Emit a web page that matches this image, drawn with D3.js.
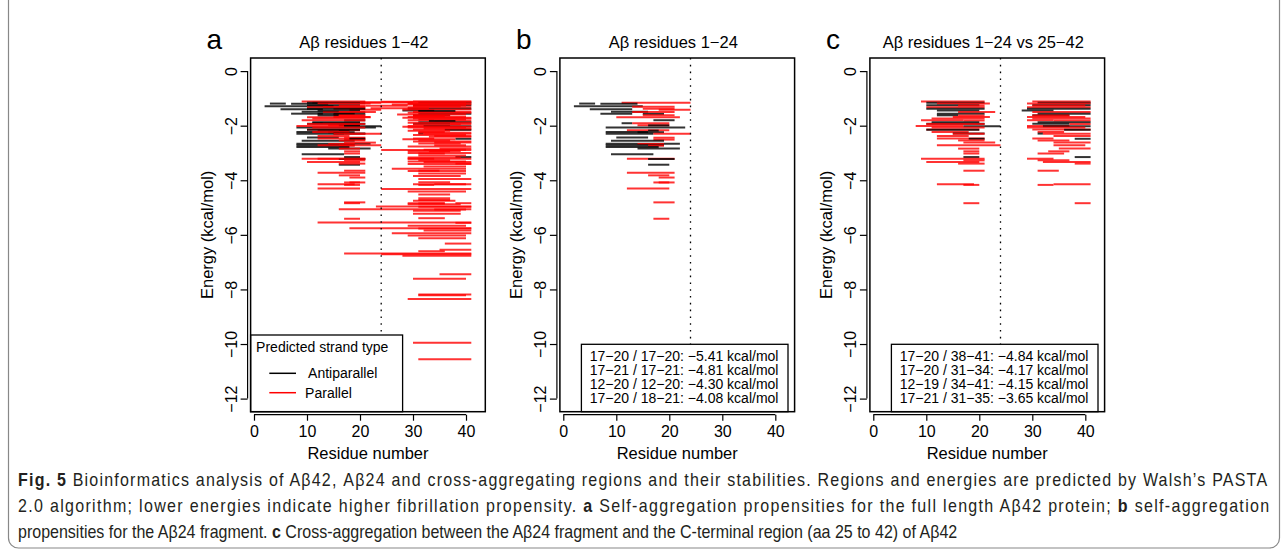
<!DOCTYPE html>
<html>
<head>
<meta charset="utf-8">
<script src="https://cdn.jsdelivr.net/npm/d3@7"></script>
<style>
  body { margin: 0; background: #fff; }
  svg { display: block; }
  text { font-family: "Liberation Sans", Arial, Helvetica, sans-serif; fill: #000; }
</style>
</head>
<body>
<svg id="fig" width="1287" height="557"></svg>
<script>
// ---- data ----------------------------------------------------------------
const xTicks = [0, 10, 20, 30, 40];
const yTicks = [0, -2, -4, -6, -8, -10, -12];
const xLimits = [1, 42];
const yLimits = [-12, 0];
const splitResidue = 24;

const panelLetters = ['a', 'b', 'c'];
const panelRanges = ['1\u221242', '1\u221224', '1\u221224 vs 25\u221242'];
const strandTypes = ['Antiparallel', 'Parallel'];

// Aβ1-24 self pairings: [from, to, energy, type]  (A = antiparallel, P = parallel)
const selfPairs124 = [
  [11, 24, -1.16, 'P'], [3, 6, -1.19, 'A'], [7, 14, -1.20, 'A'], [2, 15, -1.29, 'A'],
  [13, 21, -1.31, 'P'], [5, 13, -1.40, 'A'], [15, 21, -1.38, 'P'], [18, 24, -1.42, 'P'],
  [9, 16, -1.49, 'A'], [13, 21, -1.50, 'P'], [7, 13, -1.56, 'A'], [15, 19, -1.57, 'A'],
  [15, 21, -1.62, 'P'], [10, 22, -1.69, 'P'], [17, 21, -1.80, 'A'], [11, 13, -1.91, 'A'],
  [13, 20, -1.91, 'P'], [14, 20, -1.98, 'P'], [16, 20, -1.99, 'A'], [8, 23, -2.07, 'A'],
  [12, 20, -2.17, 'P'], [16, 18, -2.18, 'A'], [8, 16, -2.23, 'A'], [14, 19, -2.24, 'A'],
  [8, 17, -2.30, 'A'], [17, 24, -2.30, 'P'], [10, 16, -2.43, 'A'], [17, 21, -2.44, 'P'],
  [17, 21, -2.51, 'P'], [9, 19, -2.55, 'A'], [8, 22, -2.66, 'A'], [14, 19, -2.67, 'P'],
  [8, 19, -2.72, 'A'], [16, 19, -2.73, 'P'], [8, 18, -2.78, 'A'], [14, 22, -2.84, 'A'],
  [9, 17, -3.05, 'A'], [12, 21, -3.21, 'P'], [16, 21, -3.22, 'A'], [16, 20, -3.43, 'A'],
  [12, 21, -3.72, 'P'], [16, 20, -3.82, 'P'], [18, 21, -3.90, 'P'], [17, 20, -4.08, 'P'],
  [18, 21, -4.08, 'P'], [12, 20, -4.30, 'P'], [17, 21, -4.81, 'P'], [17, 20, -5.41, 'P']
];

// cross pairings 1-24 vs 25-42: [energy, from1, to1, from2, to2, type]
const crossPairs = [
  [-1.11, 9, 21, 30, 41, 'P'], [-1.16, 10, 21, 31, 41, 'A'], [-1.19, 12, 22, 29, 41, 'P'],
  [-1.25, 10, 20, 30, 41, 'A'], [-1.26, 16, 21, 30, 40, 'P'], [-1.32, 10, 21, 29, 41, 'P'],
  [-1.38, 10, 21, 29, 41, 'A'], [-1.44, 12, 20, 28, 34, 'A'], [-1.50, 16, 23, 30, 41, 'P'],
  [-1.56, 12, 21, 31, 41, 'A'], [-1.62, 12, 16, 30, 37, 'A'], [-1.63, 16, 21, 30, 37, 'P'],
  [-1.68, 15, 22, 29, 40, 'P'], [-1.74, 11, 21, 30, 41, 'P'], [-1.80, 9, 17, 29, 34, 'P'],
  [-1.81, 17, 21, 34, 41, 'P'], [-1.87, 11, 20, 31, 41, 'A'], [-1.93, 10, 21, 30, 37, 'A'],
  [-1.94, 10, 21, 37, 41, 'P'], [-2.01, 8, 17, 29, 37, 'P'], [-2.02, 17, 24, 32, 41, 'A'],
  [-2.07, 11, 21, 29, 40, 'P'], [-2.14, 10, 20, 30, 41, 'P'], [-2.15, 10, 20, 36, 41, 'A'],
  [-2.23, 11, 18, 31, 36, 'P'], [-2.29, 15, 21, 31, 32, 'A'], [-2.30, 15, 21, 32, 41, 'P'],
  [-2.38, 12, 18, 34, 41, 'P'], [-2.47, 12, 21, 30, 34, 'P'], [-2.48, 18, 21, 38, 41, 'A'],
  [-2.54, 16, 21, 31, 37, 'P'], [-2.62, 17, 23, 34, 41, 'P'], [-2.72, 12, 24, 34, 40, 'P'],
  [-2.84, 16, 20, 35, 41, 'P'], [-2.94, 17, 20, 33, 37, 'P'], [-3.02, 17, 20, 31, 36, 'P'],
  [-3.15, 17, 20, 38, 41, 'A'], [-3.21, 9, 21, 29, 34, 'P'], [-3.27, 17, 21, 31, 37, 'P'],
  [-3.33, 10, 20, 32, 41, 'P'], [-3.39, 16, 21, 38, 41, 'P'], [-3.65, 17, 21, 31, 35, 'P'],
  [-4.15, 12, 19, 34, 41, 'P'], [-4.17, 17, 20, 31, 34, 'P'], [-4.84, 17, 20, 38, 41, 'P']
];

// extra pairings only present in the full length Aβ42 run: [from, to, energy, type]
const fullLengthExtra = [
  [24, 41, -1.12, 'P'], [20, 30, -1.14, 'P'], [29, 40, -1.18, 'P'], [26, 41, -1.22, 'P'],
  [21, 29, -1.27, 'P'], [30, 39, -1.30, 'P'], [22, 33, -1.36, 'P'], [28, 41, -1.41, 'P'],
  [31, 38, -1.46, 'A'], [29, 41, -1.53, 'P'], [27, 40, -1.59, 'P'], [30, 36, -1.65, 'P'],
  [28, 41, -1.71, 'P'], [31, 40, -1.77, 'P'], [33, 38, -1.83, 'A'], [29, 41, -1.89, 'P'],
  [30, 39, -1.96, 'P'], [28, 41, -2.04, 'P'], [32, 41, -2.10, 'P'], [29, 37, -2.19, 'P'],
  [31, 41, -2.26, 'P'], [30, 40, -2.34, 'P'], [33, 41, -2.41, 'P'], [28, 38, -2.50, 'P'],
  [30, 41, -2.58, 'P'], [31, 39, -2.65, 'P'], [29, 41, -2.76, 'P'], [32, 40, -2.88, 'P'],
  [24, 41, -2.89, 'P'], [29, 39, -2.93, 'P'], [29, 41, -3.00, 'P'], [31, 40, -3.09, 'P'],
  [29, 39, -3.17, 'P'], [29, 41, -3.21, 'P'], [29, 40, -3.31, 'P'], [29, 41, -3.40, 'P'],
  [32, 40, -3.50, 'P'], [26, 40, -3.58, 'P'], [29, 40, -3.66, 'P'], [31, 40, -3.75, 'P'],
  [30, 39, -3.84, 'P'], [31, 41, -3.95, 'P'], [31, 37, -4.07, 'P'], [30, 40, -4.15, 'P'],
  [24, 41, -4.32, 'P'], [29, 40, -4.41, 'P'], [31, 37, -4.52, 'P'], [31, 37, -4.66, 'P'],
  [31, 37, -4.72, 'P'], [30, 38, -4.75, 'P'], [29, 36, -4.84, 'P'], [31, 36, -4.85, 'P'],
  [29, 39, -4.88, 'P'], [23, 41, -4.96, 'P'], [31, 41, -4.97, 'P'], [16, 41, -5.06, 'P'],
  [34, 40, -5.07, 'P'], [30, 39, -5.12, 'P'], [30, 39, -5.23, 'P'], [31, 36, -5.39, 'P'],
  [12, 41, -5.55, 'P'], [38, 41, -5.56, 'P'], [29, 40, -5.67, 'P'], [18, 41, -5.76, 'P'],
  [31, 41, -5.77, 'P'], [32, 41, -5.84, 'P'], [26, 41, -5.94, 'P'], [29, 40, -6.02, 'P'],
  [31, 40, -6.12, 'P'], [36, 41, -6.32, 'P'], [35, 41, -6.55, 'P'], [31, 36, -6.60, 'P'],
  [17, 41, -6.68, 'P'], [24, 41, -6.71, 'P'], [28, 41, -6.77, 'P'], [35, 41, -7.44, 'P'],
  [30, 40, -7.61, 'P'], [31, 41, -8.19, 'P'], [31, 40, -8.21, 'P'], [29, 41, -8.35, 'P'],
  [30, 41, -9.95, 'P'], [31, 41, -10.56, 'P']
];

const bestB = ['17\u221220 / 17\u221220: \u22125.41 kcal/mol', '17\u221221 / 17\u221221: \u22124.81 kcal/mol',
               '12\u221220 / 12\u221220: \u22124.30 kcal/mol', '17\u221220 / 18\u221221: \u22124.08 kcal/mol'];
const bestC = ['17\u221220 / 38\u221241: \u22124.84 kcal/mol', '17\u221220 / 31\u221234: \u22124.17 kcal/mol',
               '12\u221219 / 34\u221241: \u22124.15 kcal/mol', '17\u221221 / 31\u221235: \u22123.65 kcal/mol'];

// ---- layout --------------------------------------------------------------
const svg = d3.select('#fig');
const colour = { A: '#000000', P: '#ff0000' };
const panelLeft = [250.6, 559.9, 869.9];
const plotW = 234.7, plotTop = 58, plotBottom = 411.7;
const axisGap = 3;

// R style axis padding (4% each side)
const pad = ([a, b]) => { const d = (b - a) * 0.04; return [a - d, b + d]; };

// expand cross pairings into two strands each
const crossSegs = [];
crossPairs.forEach(p => {
  crossSegs.push([p[1], p[2], p[0], p[5]]);
  crossSegs.push([p[3], p[4], p[0], p[5]]);
});

const panels = [
  { segs: selfPairs124.concat(crossSegs, fullLengthExtra), legend: 'types' },
  { segs: selfPairs124, legend: bestB },
  { segs: crossSegs, legend: bestC }
];

panels.forEach((p, i) => {
  const left = panelLeft[i];
  const x = d3.scaleLinear().domain(pad(xLimits)).range([left, left + plotW]);
  const y = d3.scaleLinear().domain(pad(yLimits)).range([plotBottom, plotTop]);
  const g = svg.append('g').attr('class', 'panel');

  // segments
  g.append('g').selectAll('line')
    .data(p.segs)
    .join('line')
    .attr('x1', d => x(d[0]))
    .attr('x2', d => x(d[1]))
    .attr('y1', d => y(d[2]))
    .attr('y2', d => y(d[2]))
    .attr('stroke', d => colour[d[3]])
    .attr('stroke-opacity', 0.8)
    .attr('stroke-width', 2);

  // divider at residue 24
  g.append('line')
    .attr('x1', x(splitResidue)).attr('x2', x(splitResidue))
    .attr('y1', plotTop).attr('y2', plotBottom)
    .attr('stroke', '#000').attr('stroke-width', 1.3)
    .attr('stroke-dasharray', '1.6,5.2');

  // legend / best pairs box
  if (p.legend === 'types') {
    const lg = g.append('g');
    lg.append('rect').attr('x', left).attr('y', 335)
      .attr('width', 152).attr('height', plotBottom - 335)
      .attr('fill', '#fff').attr('stroke', '#000').attr('stroke-width', 1.3);
    lg.append('text').attr('x', left + 5.5).attr('y', 351.5)
      .attr('font-size', 14).text('Predicted strand type');
    strandTypes.forEach((t, k) => {
      const yy = 373.3 + k * 19.4;
      lg.append('line').attr('x1', left + 18.7).attr('x2', left + 45.4)
        .attr('y1', yy).attr('y2', yy)
        .attr('stroke', k === 0 ? colour.A : colour.P).attr('stroke-width', 1.5);
      lg.append('text').attr('x', left + (k === 0 ? 57.5 : 54.5)).attr('y', yy + 5)
        .attr('font-size', 14).text(t);
    });
  } else {
    const lg = g.append('g');
    lg.append('rect').attr('x', left + 21.5).attr('y', 344.3)
      .attr('width', 206.6).attr('height', plotBottom - 344.3)
      .attr('fill', '#fff').attr('stroke', '#000').attr('stroke-width', 1.3);
    lg.selectAll('text').data(p.legend).join('text')
      .attr('x', left + 29.8)
      .attr('y', (d, k) => 361.4 + k * 13.8)
      .attr('font-size', 14)
      .text(d => d);
  }

  // plot frame
  g.append('rect').attr('x', left).attr('y', plotTop)
    .attr('width', plotW).attr('height', plotBottom - plotTop)
    .attr('fill', 'none').attr('stroke', '#000').attr('stroke-width', 1.5);

  // x axis
  const xa = g.append('g')
    .attr('transform', `translate(0,${plotBottom + axisGap})`)
    .call(d3.axisBottom(x).tickValues(xTicks).tickSize(6).tickSizeOuter(0).tickPadding(5));
  xa.select('.domain').attr('d', `M${x(xTicks[0])},0H${x(xTicks[xTicks.length - 1])}`);
  xa.selectAll('text').attr('font-size', 16).attr('font-family', '"Liberation Sans", Arial, sans-serif');
  xa.selectAll('line, path').attr('stroke', '#000').attr('stroke-width', 1.2);

  // y axis
  const ya = g.append('g')
    .attr('transform', `translate(${left - axisGap},0)`)
    .call(d3.axisLeft(y).tickValues(yTicks).tickSize(7).tickSizeOuter(0));
  ya.select('.domain').attr('d', `M0,${y(yTicks[yTicks.length - 1])}V${y(yTicks[0])}`);
  ya.selectAll('line, path').attr('stroke', '#000').attr('stroke-width', 1.2);
  ya.selectAll('.tick text')
    .attr('x', null).attr('dy', null)
    .attr('text-anchor', 'middle')
    .attr('transform', 'translate(-11,0) rotate(-90)')
    .attr('font-size', 16).attr('font-family', '"Liberation Sans", Arial, sans-serif');

  // axis titles
  g.append('text')
    .attr('transform', `translate(${left - 37.5},${(plotTop + plotBottom) / 2}) rotate(-90)`)
    .attr('text-anchor', 'middle').attr('font-size', 16.5)
    .text('Energy (kcal/mol)');
  g.append('text')
    .attr('x', left + plotW / 2).attr('y', 459)
    .attr('text-anchor', 'middle').attr('font-size', 16.5)
    .text('Residue number');

  // panel title and letter
  const t = g.append('text')
    .attr('x', left + plotW / 2 - 4).attr('y', 48.3)
    .attr('text-anchor', 'middle').attr('font-size', 16.5);
  t.append('tspan').text('A\u03b2 residues ' + panelRanges[i]);
  g.append('text')
    .attr('x', left - 44).attr('y', 48.5)
    .attr('font-size', 28).text(panelLetters[i]);
});

// ---- caption ---------------------------------------------------------------
const caption = [
  [['Fig. 5', true], [' Bioinformatics analysis of A\u03b242, A\u03b224 and cross-aggregating regions and their stabilities. Regions and energies are predicted by Walsh\u2019s PASTA', false]],
  [['2.0 algorithm; lower energies indicate higher fibrillation propensity. ', false], ['a', true], [' Self-aggregation propensities for the full length A\u03b242 protein; ', false], ['b', true], [' self-aggregation', false]],
  [['propensities for the A\u03b224 fragment. ', false], ['c', true], [' Cross-aggregation between the A\u03b224 fragment and the C-terminal region (aa 25 to 42) of A\u03b242', false]]
];
const captionWidth = [1250, 1252, 940];   // lines 1-2 justified, line 3 ragged
const captionY = [486, 512, 538];

const capTexts = caption.map(line => {
  const t = svg.append('text')
    .attr('font-size', 17.5)
    .attr('font-family', '"Open Sans", "Noto Sans", sans-serif')
    .style('fill', '#231f20');
  line.forEach(([s, bold]) => {
    t.append('tspan').attr('font-weight', bold ? 700 : 400).text(s);
  });
  return t;
});
// one horizontal squeeze for the condensed face, taken from the ragged last line
const squeeze = captionWidth[2] / capTexts[2].node().getComputedTextLength();
capTexts.forEach((t, i) => {
  if (i < 2) {
    const n = caption[i].map(s => s[0]).join('').length;
    const extra = (captionWidth[i] / squeeze - t.node().getComputedTextLength()) / (n - 1);
    t.attr('letter-spacing', extra);
  }
  t.attr('transform', `translate(18,${captionY[i]}) scale(${squeeze},1)`);
});

// figure frame
svg.append('rect')
  .attr('x', 8.5).attr('y', -12).attr('width', 1271).attr('height', 560)
  .attr('rx', 10).attr('fill', 'none').attr('stroke', '#888').attr('stroke-width', 1.2);
</script>
</body>
</html>
